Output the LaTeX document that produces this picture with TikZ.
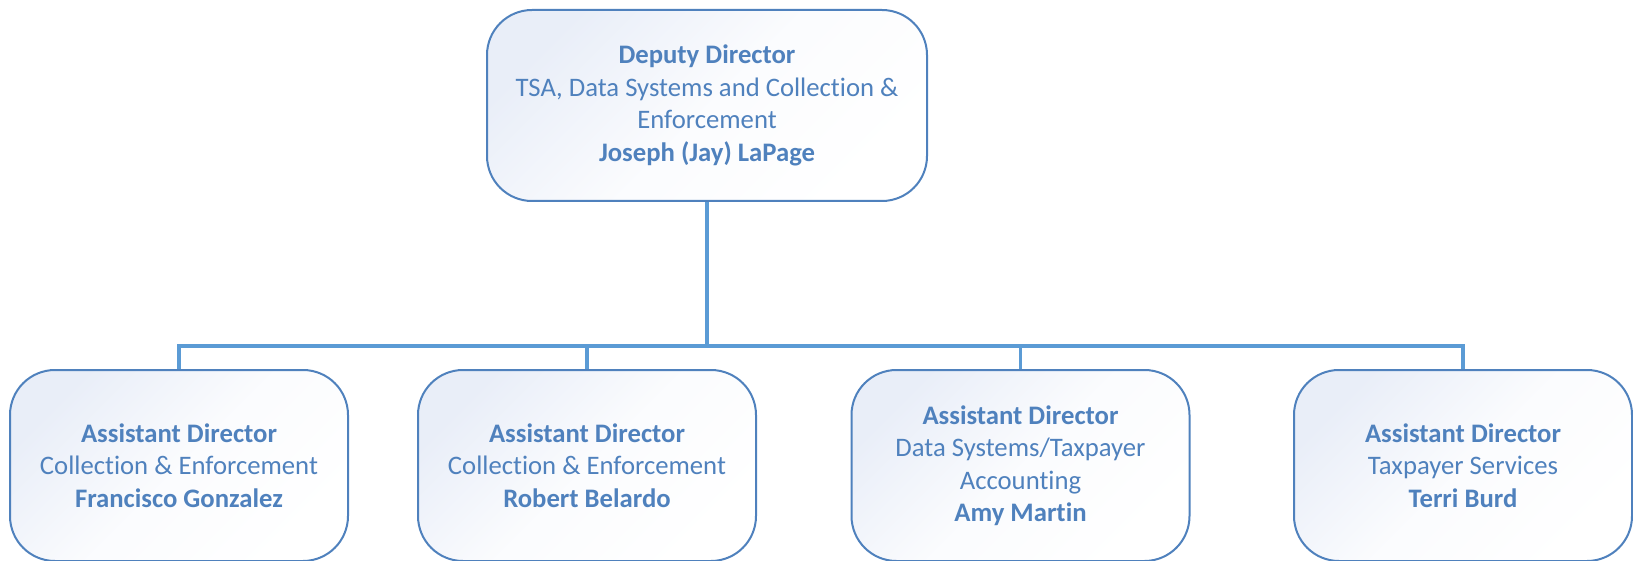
\documentclass[tikz,border=0pt]{standalone}
\usepackage{fontspec}
\setmainfont[Ligatures=NoCommon]{Carlito}
\usetikzlibrary{calc}
\definecolor{boxblue}{HTML}{4F81BD}
\definecolor{lineblue}{HTML}{5B9BD5}
\definecolor{shadeblue}{HTML}{E9EEF8}

\begin{document}
\begin{tikzpicture}[
		x=1pt, y=-1pt,
		post/.style={rectangle, rounded corners=45pt, draw=boxblue, line width=2pt,
			top color=shadeblue, bottom color=white, middle color=white!80!shadeblue, shading angle=45,
			text=boxblue, align=center, font=\fontsize{26.7}{32.5}\selectfont,
			minimum height=191pt},
		chief/.style={post, minimum width=440pt},
		asst/.style={post, minimum width=338pt},
		link/.style={draw=lineblue, line width=3.5pt}]

		\useasboundingbox (0,0) rectangle (1633,561);

		\node[chief] (dd) at (707,105.5) {\textbf{Deputy Director}\\TSA, Data Systems and Collection \&\\Enforcement\\\textbf{Joseph (Jay) LaPage}};

		\node[asst] (ce1) at (179,465.5) {\textbf{Assistant Director}\\Collection \& Enforcement\\\textbf{Francisco Gonzalez}};
		\node[asst] (ce2) at (587,465.5) {\textbf{Assistant Director}\\Collection \& Enforcement\\\textbf{Robert Belardo}};
		\node[asst] (ds) at (1020.5,465.5) {\textbf{Assistant Director}\\Data Systems/Taxpayer\\Accounting\\\textbf{Amy Martin}};
		\node[asst] (ts) at (1463,465.5) {\textbf{Assistant Director}\\Taxpayer Services\\\textbf{Terri Burd}};

		\coordinate (bus) at (707,346);
		\draw[link] (dd) -- (bus);
		\foreach \n in {ce1,ce2,ds,ts}
			\draw[link] (\n.north) |- (bus);

\end{tikzpicture}
\end{document}
